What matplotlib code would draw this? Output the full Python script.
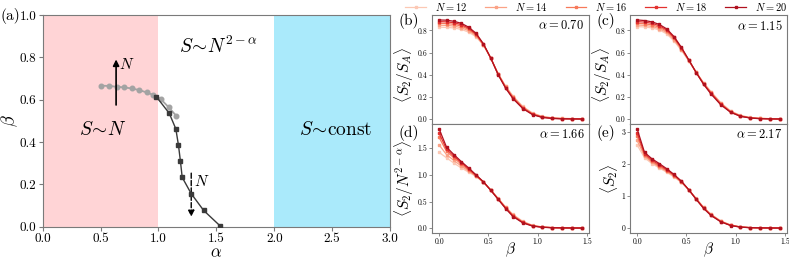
import numpy as np
import matplotlib
matplotlib.use('Agg')
import matplotlib.pyplot as plt

plt.rcParams['font.family'] = 'serif'
plt.rcParams['font.serif'] = ['cmr10']
plt.rcParams['mathtext.fontset'] = 'cm'
plt.rcParams['axes.formatter.use_mathtext'] = True

# ---------------- data: panel (a) ----------------
gray_alpha = [0.504, 0.574, 0.640, 0.703, 0.770, 0.836, 0.900, 0.957, 1.021, 1.087, 1.153]
gray_beta = [0.666, 0.665, 0.661, 0.658, 0.653, 0.645, 0.634, 0.622, 0.602, 0.565, 0.524]
black_alpha = [0.980, 1.093, 1.150, 1.173, 1.190, 1.205, 1.283, 1.390, 1.534]
black_beta = [0.615, 0.536, 0.462, 0.384, 0.308, 0.233, 0.156, 0.077, 0.003]

# ---------------- data: panels (b)-(e) ----------------
beta = [0, 0.075, 0.15, 0.225, 0.3, 0.375, 0.45, 0.525, 0.6, 0.675, 0.75,
        0.85, 0.95, 1.05, 1.15, 1.25, 1.35, 1.45]
Ns = [12, 14, 16, 18, 20]

b_vals = {
    12: [0.830, 0.828, 0.823, 0.810, 0.785, 0.743, 0.667, 0.550, 0.410, 0.300, 0.210, 0.115, 0.055, 0.025, 0.012, 0.007, 0.005, 0.004],
    14: [0.848, 0.846, 0.840, 0.825, 0.798, 0.752, 0.670, 0.550, 0.408, 0.295, 0.203, 0.110, 0.051, 0.022, 0.011, 0.006, 0.005, 0.003],
    16: [0.865, 0.863, 0.856, 0.840, 0.810, 0.760, 0.673, 0.550, 0.405, 0.290, 0.197, 0.105, 0.047, 0.020, 0.009, 0.005, 0.004, 0.003],
    18: [0.880, 0.878, 0.870, 0.853, 0.820, 0.767, 0.676, 0.550, 0.403, 0.285, 0.190, 0.100, 0.043, 0.017, 0.008, 0.004, 0.003, 0.002],
    20: [0.895, 0.893, 0.883, 0.865, 0.830, 0.775, 0.680, 0.550, 0.400, 0.280, 0.185, 0.095, 0.040, 0.015, 0.006, 0.003, 0.002, 0.001],
}
c_vals = {
    12: [0.835, 0.832, 0.823, 0.805, 0.770, 0.705, 0.620, 0.525, 0.425, 0.330, 0.250, 0.150, 0.075, 0.035, 0.016, 0.009, 0.006, 0.004],
    14: [0.850, 0.846, 0.837, 0.817, 0.782, 0.717, 0.628, 0.528, 0.423, 0.326, 0.245, 0.145, 0.071, 0.032, 0.015, 0.008, 0.005, 0.004],
    16: [0.865, 0.861, 0.851, 0.830, 0.794, 0.729, 0.636, 0.531, 0.422, 0.322, 0.240, 0.140, 0.068, 0.030, 0.013, 0.007, 0.005, 0.003],
    18: [0.880, 0.876, 0.865, 0.843, 0.805, 0.737, 0.642, 0.533, 0.421, 0.319, 0.234, 0.135, 0.065, 0.028, 0.012, 0.006, 0.004, 0.003],
    20: [0.895, 0.890, 0.878, 0.855, 0.815, 0.745, 0.648, 0.535, 0.420, 0.315, 0.228, 0.130, 0.062, 0.026, 0.011, 0.005, 0.003, 0.002],
}
d_vals = {
    12: [1.42, 1.32, 1.22, 1.13, 1.05, 0.97, 0.86, 0.72, 0.56, 0.40, 0.26, 0.13, 0.055, 0.025, 0.013, 0.009, 0.007, 0.006],
    14: [1.56, 1.38, 1.27, 1.165, 1.07, 0.975, 0.862, 0.718, 0.555, 0.392, 0.25, 0.122, 0.051, 0.023, 0.012, 0.009, 0.007, 0.005],
    16: [1.70, 1.44, 1.32, 1.20, 1.09, 0.985, 0.865, 0.715, 0.55, 0.385, 0.24, 0.115, 0.048, 0.021, 0.012, 0.008, 0.006, 0.005],
    18: [1.78, 1.48, 1.35, 1.23, 1.11, 0.99, 0.87, 0.71, 0.545, 0.38, 0.23, 0.108, 0.044, 0.020, 0.011, 0.008, 0.006, 0.005],
    20: [1.86, 1.52, 1.38, 1.25, 1.13, 1.00, 0.87, 0.71, 0.54, 0.37, 0.22, 0.10, 0.040, 0.018, 0.010, 0.007, 0.005, 0.004],
}
e_vals = {
    12: [2.60, 2.20, 2.02, 1.88, 1.75, 1.60, 1.43, 1.20, 0.93, 0.66, 0.44, 0.23, 0.105, 0.045, 0.022, 0.015, 0.011, 0.009],
    14: [2.74, 2.25, 2.06, 1.91, 1.78, 1.62, 1.44, 1.20, 0.92, 0.65, 0.43, 0.222, 0.10, 0.042, 0.021, 0.014, 0.011, 0.009],
    16: [2.88, 2.29, 2.09, 1.94, 1.80, 1.64, 1.45, 1.20, 0.915, 0.64, 0.42, 0.215, 0.095, 0.040, 0.020, 0.014, 0.010, 0.008],
    18: [2.98, 2.33, 2.13, 1.98, 1.83, 1.66, 1.46, 1.20, 0.91, 0.63, 0.41, 0.207, 0.090, 0.038, 0.019, 0.013, 0.010, 0.008],
    20: [3.10, 2.37, 2.17, 2.02, 1.86, 1.68, 1.47, 1.20, 0.90, 0.62, 0.40, 0.20, 0.085, 0.035, 0.018, 0.012, 0.009, 0.007],
}
alphas_panels = ['0.70', '1.15', '1.66', '2.17']
ylabels = [r'$\langle S_2/S_A\rangle$', r'$\langle S_2/S_A\rangle$',
           r'$\langle S_2/N^{2-\alpha}\rangle$', r'$\langle S_2\rangle$']
panel_letters = ['(b)', '(c)', '(d)', '(e)']
colors = ['#fcc8b4', '#fba286', '#f7795a', '#e3312f', '#b0111f']

# ---------------- figure ----------------
W, H = 789, 259
fig = plt.figure(figsize=(W / 100, H / 100), dpi=100)


def px(l, t, r, b):
    return [l / W, 1 - b / H, (r - l) / W, (b - t) / H]


spine_col = '#7a7a7a'

axa = fig.add_axes(px(42.7, 15, 390, 226.7))
axa.axvspan(0, 1, color='#ffd4d6', lw=0, zorder=0)
axa.axvspan(2, 3, color='#aaeafb', lw=0, zorder=0)
axa.plot(gray_alpha, gray_beta, '-o', color='#a3a3a3', ms=3.3, lw=1.3, zorder=3)
axa.plot(black_alpha, black_beta, '-s', color='#3a3a3a', ms=3.3, lw=1.0, zorder=4)
axa.set_xlim(0, 3)
axa.set_ylim(0, 1)
axa.set_xticks(np.arange(0, 3.01, 0.5))
axa.set_yticks(np.arange(0, 1.01, 0.2))
axa.xaxis.set_major_formatter(matplotlib.ticker.FormatStrFormatter('%.1f'))
axa.yaxis.set_major_formatter(matplotlib.ticker.FormatStrFormatter('%.1f'))
axa.tick_params(labelsize=9.5, length=3, color=spine_col, pad=1.5)
for s in axa.spines.values():
    s.set_color(spine_col)
axa.set_xlabel(r'$\alpha$', fontsize=12, labelpad=0)
axa.set_ylabel(r'$\beta$', fontsize=13, labelpad=0)
axa.text(0.52, 0.457, r'$S\!\sim\! N$', fontsize=14, ha='center', va='center')
axa.text(1.52, 0.85, r'$S\!\sim\! N^{2-\alpha}$', fontsize=14, ha='center', va='center')
axa.text(2.53, 0.457, r'$S\!\sim\!\mathrm{const}$', fontsize=14, ha='center', va='center')
axa.annotate('', xy=(0.634, 0.79), xytext=(0.634, 0.575),
             arrowprops=dict(arrowstyle='-|>', color='black', lw=1.2,
                             mutation_scale=9, shrinkA=0, shrinkB=0))
axa.annotate('', xy=(1.283, 0.047), xytext=(1.283, 0.253),
             arrowprops=dict(arrowstyle='-|>', color='black', lw=1.0, ls='--',
                             mutation_scale=9, shrinkA=0, shrinkB=0))
axa.text(0.66, 0.765, r'$N$', fontsize=11, ha='left', va='center')
axa.text(1.31, 0.215, r'$N$', fontsize=11, ha='left', va='center')
fig.text(0.0, 1 - 16 / H, '(a)', fontsize=11, ha='left', va='center')

boxes = [(432, 15, 589, 124), (630, 15, 787, 124),
         (432, 124, 589, 233), (630, 124, 787, 233)]
datas = [b_vals, c_vals, d_vals, e_vals]
yticks = [[0, 0.2, 0.4, 0.6, 0.8], [0, 0.2, 0.4, 0.6, 0.8],
          [0, 0.5, 1.0, 1.5], [0, 1, 2, 3]]
yfmt = ['%.1f', '%.1f', '%.1f', '%d']
label_pos = [(399, 21), (596, 21), (399, 133), (596, 133)]

handles = []
for i in range(4):
    ax = fig.add_axes(px(*boxes[i]))
    for j, N in enumerate(Ns):
        ln, = ax.plot(beta, datas[i][N], '-s', color=colors[j], ms=1.8, lw=0.9,
                      label=r'$N=%d$' % N)
        if i == 0:
            handles.append(ln)
    ax.set_xticks([0, 0.5, 1.0, 1.5])
    ax.xaxis.set_major_formatter(matplotlib.ticker.FormatStrFormatter('%.1f'))
    ax.set_yticks(yticks[i])
    ax.yaxis.set_major_formatter(matplotlib.ticker.FormatStrFormatter(yfmt[i]))
    ax.tick_params(labelsize=5.5, length=2, width=0.6, color=spine_col, pad=1.5)
    for s in ax.spines.values():
        s.set_color(spine_col)
    if i < 2:
        ax.tick_params(labelbottom=False)
    else:
        ax.set_xlabel(r'$\beta$', fontsize=11, labelpad=-4)
    ax.set_ylabel(ylabels[i], fontsize=11, labelpad=1)
    if i < 2:
        ax.yaxis.set_label_coords(-0.105, 0.45)
    ax.text(0.97, 0.9, r'$\alpha=%s$' % alphas_panels[i], transform=ax.transAxes,
            fontsize=9, ha='right', va='center')
    lx, ly = label_pos[i]
    fig.text(lx / W, 1 - ly / H, panel_letters[i], fontsize=11, ha='left', va='center')

fig.legend(handles=handles, loc='center', bbox_to_anchor=(596 / W, 1 - 7 / H),
           ncol=5, frameon=False, fontsize=7.5, handlelength=2.0,
           handletextpad=0.8, columnspacing=1.8, borderaxespad=0, borderpad=0)

fig.savefig('out.png', dpi=100)
